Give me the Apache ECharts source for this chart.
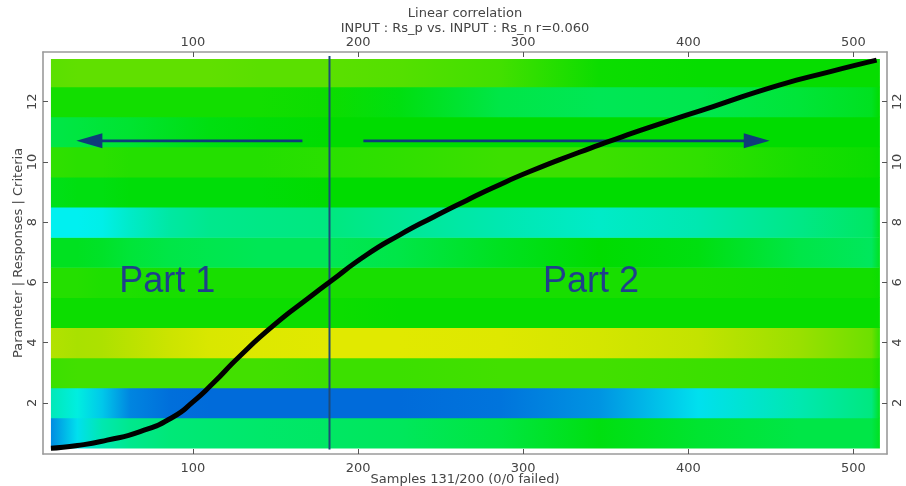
<!DOCTYPE html>
<html>
<head>
<meta charset="utf-8">
<script src="https://cdn.jsdelivr.net/npm/echarts@6/dist/echarts.min.js"></script>
<style>
  html, body { margin: 0; padding: 0; background: #ffffff; }
  #chart { width: 906px; height: 486px; }
</style>
</head>
<body>
<div id="chart"></div>
<script>
// Sample positions along x where each row's correlation level is given
const xStops = [14, 30, 45, 62, 86, 110, 140, 183, 225, 286, 346, 406, 467, 511, 516];

// Normalised correlation level per row (row 1 at the bottom), one value per x stop
const row01 = [0.09, 0.20, 0.30, 0.35, 0.38, 0.39, 0.40, 0.41, 0.42, 0.46, 0.52, 0.48, 0.45, 0.45, 0.50];
const row02 = [0.29, 0.24, 0.17, 0.08, 0.03, 0.02, 0.02, 0.02, 0.02, 0.04, 0.10, 0.20, 0.30, 0.37, 0.50];
const row03 = [0.64, 0.65, 0.65, 0.65, 0.65, 0.65, 0.65, 0.64, 0.64, 0.65, 0.65, 0.64, 0.63, 0.62, 0.58];
const row04 = [0.84, 0.82, 0.83, 0.86, 0.90, 0.95, 0.97, 0.98, 0.98, 0.97, 0.93, 0.88, 0.79, 0.72, 0.62];
const row05 = [0.56, 0.56, 0.56, 0.56, 0.56, 0.56, 0.56, 0.56, 0.55, 0.55, 0.55, 0.55, 0.55, 0.55, 0.55];
const row06 = [0.60, 0.60, 0.59, 0.59, 0.58, 0.58, 0.58, 0.58, 0.58, 0.58, 0.58, 0.58, 0.57, 0.57, 0.56];
const row07 = [0.50, 0.50, 0.49, 0.47, 0.45, 0.44, 0.43, 0.43, 0.45, 0.50, 0.54, 0.52, 0.45, 0.42, 0.50];
const row08 = [0.22, 0.22, 0.23, 0.27, 0.32, 0.35, 0.36, 0.37, 0.34, 0.30, 0.27, 0.30, 0.36, 0.41, 0.50];
const row09 = [0.51, 0.52, 0.52, 0.53, 0.53, 0.53, 0.53, 0.54, 0.54, 0.54, 0.54, 0.54, 0.54, 0.54, 0.54];
const row10 = [0.62, 0.61, 0.61, 0.60, 0.60, 0.60, 0.60, 0.61, 0.62, 0.64, 0.64, 0.62, 0.58, 0.56, 0.55];
const row11 = [0.45, 0.46, 0.47, 0.48, 0.50, 0.52, 0.53, 0.54, 0.54, 0.54, 0.54, 0.54, 0.54, 0.54, 0.54];
const row12 = [0.57, 0.57, 0.57, 0.57, 0.57, 0.57, 0.57, 0.56, 0.52, 0.45, 0.43, 0.44, 0.47, 0.50, 0.54];
const row13 = [0.69, 0.70, 0.70, 0.70, 0.70, 0.70, 0.69, 0.69, 0.68, 0.65, 0.56, 0.55, 0.55, 0.55, 0.55];
const rowLevels = [row01, row02, row03, row04, row05, row06, row07, row08, row09, row10, row11, row12, row13];

// Sorted sample curve
const curveX = [14, 30, 48, 68, 88, 100, 112, 128, 149, 171, 183, 205, 225, 246, 266, 282, 304, 334, 352, 375, 415, 455, 486, 514];
const curveY = [0.49, 0.58, 0.76, 1.04, 1.53, 2.03, 2.64, 3.53, 4.58, 5.52, 6.02, 6.91, 7.57, 8.18, 8.73, 9.15, 9.68, 10.32, 10.68, 11.12, 11.84, 12.55, 13.0, 13.38];

// Split between the two parts, and the annotation arrows / labels
const dividerX = 182.7;
const dividerSpan = [0.45, 13.52];
const arrowStarts = [166.3, 203.2];
const arrowTips = [29.4, 449.3];
const arrowLevel = 10.7;
const partNames = ['Part 1', 'Part 2'];
const partX = [55.4, 312];
const partY = 6.02;

// Tick labels
const xTicks = [100, 200, 300, 400, 500];
const yTicks = [2, 4, 6, 8, 10, 12];

// Colour ramp: blue -> cyan -> green -> yellow
const ramp = [
  [0.00, [0, 98, 216]],
  [0.08, [0, 133, 224]],
  [0.15, [0, 184, 232]],
  [0.22, [0, 240, 240]],
  [0.30, [0, 232, 176]],
  [0.38, [0, 232, 120]],
  [0.46, [0, 230, 64]],
  [0.54, [0, 220, 0]],
  [0.62, [48, 224, 0]],
  [0.70, [96, 224, 0]],
  [0.80, [160, 224, 0]],
  [0.90, [204, 228, 0]],
  [1.00, [230, 234, 0]]
];
function rampColor(v) {
  v = Math.max(0, Math.min(1, v));
  for (let i = 1; i < ramp.length; i++) {
    if (v <= ramp[i][0]) {
      const a = ramp[i - 1], b = ramp[i];
      const t = (v - a[0]) / (b[0] - a[0]);
      const c = a[1].map((ca, k) => Math.round(ca + (b[1][k] - ca) * t));
      return 'rgb(' + c.join(',') + ')';
    }
  }
  const last = ramp[ramp.length - 1][1];
  return 'rgb(' + last.join(',') + ')';
}

const rowTop = 13.42;   // upper edge of the top row
const navy = '#0f3c7a';
const textColor = '#444444';
const fontFamily = '"DejaVu Sans", Verdana, sans-serif';

const chart = echarts.init(document.getElementById('chart'), null, { renderer: 'canvas' });

function renderRow(params, api) {
  const rowIdx = api.value(0);
  const levels = rowLevels[rowIdx - 1];
  const x0 = xStops[0], x1 = xStops[xStops.length - 1];
  const pTopLeft = api.coord([x0, Math.min(rowIdx + 0.5, rowTop)]);
  const pBotRight = api.coord([x1, rowIdx - 0.5]);
  const stops = xStops.map((x, i) => ({
    offset: (x - x0) / (x1 - x0),
    color: rampColor(levels[i])
  }));
  return {
    type: 'rect',
    shape: {
      x: pTopLeft[0],
      y: pTopLeft[1],
      width: pBotRight[0] - pTopLeft[0],
      height: pBotRight[1] - pTopLeft[1] + 0.5
    },
    style: { fill: new echarts.graphic.LinearGradient(0, 0, 1, 0, stops) }
  };
}

function renderArrow(params, api) {
  const p0 = api.coord([api.value(0), api.value(2)]);
  const p1 = api.coord([api.value(1), api.value(2)]);
  const dir = p1[0] > p0[0] ? 1 : -1;
  const headLen = 26, headHalf = 7.5;
  const baseX = p1[0] - dir * headLen;
  return {
    type: 'group',
    children: [
      {
        type: 'line',
        shape: { x1: p0[0], y1: p0[1], x2: baseX + dir * 2, y2: p0[1] },
        style: { stroke: navy, lineWidth: 2.7 }
      },
      {
        type: 'polygon',
        shape: { points: [[p1[0], p1[1]], [baseX, p1[1] - headHalf], [baseX, p1[1] + headHalf]] },
        style: { fill: navy }
      }
    ]
  };
}

function renderPart(params, api) {
  const p = api.coord([api.value(0), api.value(1)]);
  return {
    type: 'text',
    x: p[0],
    y: p[1],
    style: {
      text: partNames[params.dataIndex],
      fill: '#1f3f8c',
      fontSize: 36,
      fontFamily: '"Liberation Sans", Arial, sans-serif',
      align: 'left',
      verticalAlign: 'middle'
    }
  };
}

const axisLineStyle = { color: '#9a9a9a', width: 1.6 };
const tickStyle = { color: '#555555', width: 1 };
const labelStyle = { color: textColor, fontSize: 13, fontFamily: fontFamily };

const option = {
  backgroundColor: '#ffffff',
  animation: false,
  grid: { left: 43, right: 19, top: 52, bottom: 32, outerBoundsMode: 'none', containLabel: false },
  xAxis: [
    {
      type: 'value', position: 'bottom', min: 9.2, max: 520.3,
      name: 'Samples 131/200 (0/0 failed)', nameLocation: 'middle', nameGap: 19, nameMoveOverlap: false,
      nameTextStyle: { color: textColor, fontSize: 13, fontFamily: fontFamily },
      axisLine: { show: true, lineStyle: axisLineStyle },
      axisTick: { show: true, inside: true, length: 5, lineStyle: tickStyle, customValues: xTicks },
      axisLabel: Object.assign({ margin: 8, customValues: xTicks }, labelStyle),
      splitLine: { show: false }
    },
    {
      type: 'value', position: 'top', min: 9.2, max: 520.3,
      name: 'Linear correlation\nINPUT : Rs_p vs. INPUT : Rs_n r=0.060', nameLocation: 'middle', nameGap: 16, nameMoveOverlap: false,
      nameTextStyle: { color: textColor, fontSize: 13, lineHeight: 15, fontFamily: fontFamily },
      axisLine: { show: true, lineStyle: axisLineStyle },
      axisTick: { show: true, inside: true, length: 5, lineStyle: tickStyle, customValues: xTicks },
      axisLabel: Object.assign({ margin: 3, customValues: xTicks }, labelStyle),
      splitLine: { show: false }
    }
  ],
  yAxis: [
    {
      type: 'value', position: 'left', min: 0.3, max: 13.65,
      name: 'Parameter | Responses | Criteria', nameLocation: 'middle', nameGap: 18, nameMoveOverlap: false,
      nameTextStyle: { color: textColor, fontSize: 13, fontFamily: fontFamily },
      axisLine: { show: true, lineStyle: axisLineStyle },
      axisTick: { show: true, inside: true, length: 5, lineStyle: tickStyle, customValues: yTicks },
      axisLabel: Object.assign({ margin: 4, rotate: 90, customValues: yTicks }, labelStyle),
      splitLine: { show: false }
    },
    {
      type: 'value', position: 'right', min: 0.3, max: 13.65,
      axisLine: { show: true, lineStyle: axisLineStyle },
      axisTick: { show: true, inside: true, length: 5, lineStyle: tickStyle, customValues: yTicks },
      axisLabel: Object.assign({ margin: 4, rotate: 90, customValues: yTicks }, labelStyle),
      splitLine: { show: false }
    }
  ],
  series: [
    {
      type: 'custom',
      name: 'rows',
      xAxisIndex: 0, yAxisIndex: 0,
      renderItem: renderRow,
      encode: { x: 1, y: 0 },
      data: rowLevels.map((_, i) => [i + 1, xStops[0]]),
      silent: true,
      z: 1
    },
    {
      type: 'line',
      name: 'divider',
      xAxisIndex: 0, yAxisIndex: 0,
      data: dividerSpan.map(y => [dividerX, y]),
      symbol: 'none',
      lineStyle: { color: '#1d4a78', width: 2 },
      silent: true,
      z: 3
    },
    {
      type: 'custom',
      name: 'arrows',
      xAxisIndex: 0, yAxisIndex: 0,
      renderItem: renderArrow,
      encode: { x: [0, 1], y: 2 },
      data: arrowStarts.map((s, i) => [s, arrowTips[i], arrowLevel]),
      silent: true,
      z: 4
    },
    {
      type: 'custom',
      name: 'parts',
      xAxisIndex: 0, yAxisIndex: 0,
      renderItem: renderPart,
      encode: { x: 0, y: 1 },
      data: partX.map(x => [x, partY]),
      silent: true,
      z: 4
    },
    {
      type: 'line',
      name: 'samples',
      xAxisIndex: 0, yAxisIndex: 0,
      data: curveX.map((x, i) => [x, curveY[i]]),
      smooth: 0.6,
      symbol: 'none',
      lineStyle: { color: '#000000', width: 5 },
      silent: true,
      z: 5
    }
  ]
};

chart.setOption(option);
</script>
</body>
</html>
